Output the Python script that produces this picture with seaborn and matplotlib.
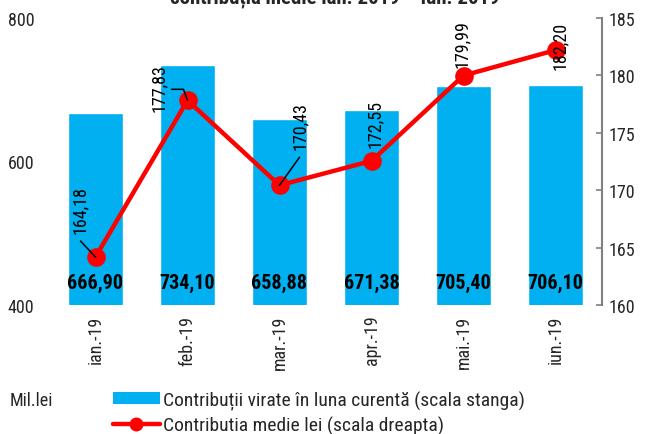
import matplotlib
matplotlib.use("Agg")
import matplotlib.pyplot as plt
from matplotlib.patches import Patch
from matplotlib.lines import Line2D
import seaborn as sns
import pandas as pd

months = ["ian.-19", "feb.-19", "mar.-19", "apr.-19", "mai.-19", "iun.-19"]
contrib_mil = [666.90, 734.10, 658.88, 671.38, 705.40, 706.10]
contrib_medie = [164.18, 177.83, 170.43, 172.55, 179.99, 182.20]
bar_labels = ["666,90", "734,10", "658,88", "671,38", "705,40", "706,10"]
line_labels = ["164,18", "177,83", "170,43", "172,55", "179,99", "182,20"]
left_ticks = [400, 600, 800]
right_ticks = [160, 165, 170, 175, 180, 185]

sns.set_theme(style="white")
plt.rcParams["font.family"] = ["Roboto Condensed", "DejaVu Sans"]

BLUE = "#00B0F0"
RED = "#FF0000"

df = pd.DataFrame({"luna": months, "contrib": contrib_mil, "medie": contrib_medie})

fig = plt.figure(figsize=(6.45, 4.35), dpi=100)
ax = fig.add_axes([49.5 / 645, 1 - 306 / 435, (601.5 - 49.5) / 645, (306 - 19) / 435])

sns.barplot(data=df, x="luna", y="contrib", color=BLUE, width=0.6, saturation=1,
            ax=ax, zorder=1)
ax.set_ylim(400, 800)
ax.set_yticks(left_ticks)
ax.set_yticklabels([str(t) for t in left_ticks], fontsize=13)
ax.set_xlim(-0.5, 5.5)
ax.set_xlabel("")
ax.set_ylabel("")
ax.tick_params(axis="x", labelrotation=90, labelsize=13, length=0, pad=7)
ax.tick_params(axis="y", length=0, pad=11)
for s in ax.spines.values():
    s.set_visible(False)

for i, lab in enumerate(bar_labels):
    ax.text(i, 432, lab, ha="center", va="center", fontsize=14.5, fontweight="bold",
            color="black", zorder=5)

ax2 = ax.twinx()
sns.pointplot(data=df, x="luna", y="medie", color=RED, ax=ax2, markers="o",
              markersize=11, linewidth=3.2, zorder=3)
ax2.set_ylim(160, 185)
ax2.set_xlim(-0.5, 5.5)
ax2.set_yticks(right_ticks)
ax2.set_yticklabels([str(t) for t in right_ticks], fontsize=13)
ax2.set_ylabel("")
ax2.set_xlabel("")
ax2.yaxis.tick_right()
ax2.tick_params(axis="y", direction="in", length=4, width=1.2, color="#808080", pad=5)
for k, s in ax2.spines.items():
    s.set_visible(k == "right")
ax2.spines["right"].set_color("#808080")
ax2.spines["right"].set_linewidth(1.5)

# rotated value labels (offsets in pixels from marker)
text_off = [(-16, 48), (-29, 13), (20, 60), (3, 38), (-2, 32), (4, 5)]
for i, (lab, (dx, dy)) in enumerate(zip(line_labels, text_off)):
    ax2.annotate(lab, xy=(i, contrib_medie[i]), xytext=(dx, dy), textcoords="offset pixels",
                 rotation=90, ha="center", va="center", fontsize=13, color="black", zorder=6)

# leader lines
lp = dict(arrowstyle="-", color="black", lw=1.1, shrinkA=0, shrinkB=0)
ax2.annotate("", xy=(0, contrib_medie[0]), xytext=(-15, 16), textcoords="offset pixels",
             arrowprops=lp, zorder=6)
ax2.annotate("", xy=(1, contrib_medie[1]), xytext=(-16, 11), textcoords="offset pixels",
             arrowprops=dict(lp, connectionstyle="angle,angleA=0,angleB=110,rad=0"), zorder=6)
ax2.annotate("", xy=(2, contrib_medie[2]), xytext=(20, 28), textcoords="offset pixels",
             arrowprops=lp, zorder=6)

fig.text(335 / 645, 1 - 3 / 435, "contribuția medie ian. 2019 – iun. 2019", ha="center",
         va="baseline", fontsize=15, fontweight="bold")

fig.text(10 / 645, 1 - 401 / 435, "Mil.lei", ha="left", va="center", fontsize=13)

handles = [Patch(facecolor=BLUE, edgecolor="none"),
           Line2D([0], [0], color=RED, lw=3.2, marker="o", markersize=9)]
labels = ["Contribuții virate în luna curentă (scala stanga)",
          "Contributia medie lei (scala dreapta)"]
fig.legend(handles, labels, loc="upper left", bbox_to_anchor=(113 / 645, 1 - 391 / 435),
           frameon=False, fontsize=14, handlelength=2.4, handleheight=0.6,
           handletextpad=0.15, labelspacing=0.3, borderaxespad=0, borderpad=0)

fig.savefig("out.png", dpi=100)
